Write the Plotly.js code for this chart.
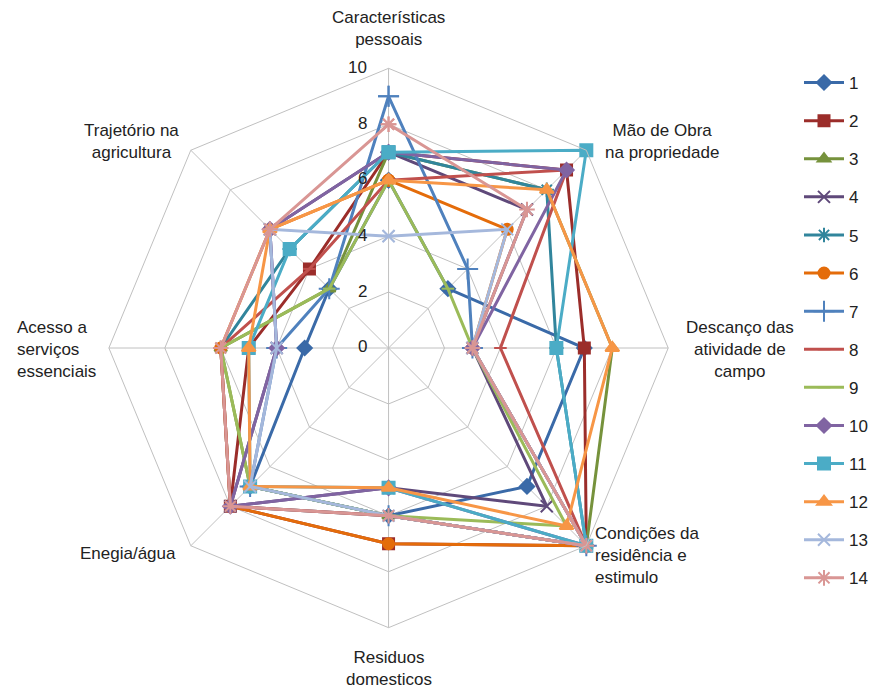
<!DOCTYPE html>
<html>
<head>
<meta charset="utf-8">
<script src="https://cdn.plot.ly/plotly-3.0.1.min.js"></script>
<style>html,body{margin:0;padding:0;background:#fff;}#chart{width:873px;height:692px;}</style>
</head>
<body>
<div id="chart"></div>
<script>
// Axis categories (clockwise from top)
const categories = [
  "Características pessoais",
  "Mão de Obra na propriedade",
  "Descanço das atividade de campo",
  "Condições da residência e estimulo",
  "Residuos domesticos",
  "Enegia/água",
  "Acesso a serviços essenciais",
  "Trajetório na agricultura"
];
const categoryLabels = [
  "Características<br>pessoais",
  "Mão de Obra<br>na propriedade",
  "Descanço das<br>atividade de<br>campo",
  "Condições da<br>residência e<br>estimulo",
  "Residuos<br>domesticos",
  "Enegia/água",
  "Acesso a<br>serviços<br>essenciais",
  "Trajetório na<br>agricultura"
];
const seriesNames = ["1","2","3","4","5","6","7","8","9","10","11","12","13","14"];
const s1  = [6, 3, 7, 7, 6, 7, 3, 3];
const s2  = [7, 9, 7, 10, 7, 8, 5, 4];
const s3  = [7, 8, 8, 10, 6, 7, 6, 3];
const s4  = [7, 7, 3, 8, 5, 8, 4, 6];
const s5  = [7, 8, 6, 10, 6, 8, 6, 5];
const s6  = [6, 6, 3, 10, 7, 8, 6, 6];
const s7  = [9, 4, 3, 10, 6, 7, 4, 3];
const s8  = [6, 9, 4, 10, 6, 8, 6, 4];
const s9  = [6, 3, 3, 9, 6, 7, 6, 3];
const s10 = [7, 9, 3, 10, 5, 8, 4, 6];
const s11 = [7, 10, 6, 10, 5, 7, 5, 5];
const s12 = [6, 8, 8, 9, 5, 7, 5, 6];
const s13 = [4, 6, 3, 10, 6, 7, 4, 6];
const s14 = [8, 7, 3, 10, 6, 8, 6, 6];
const seriesValues = [s1,s2,s3,s4,s5,s6,s7,s8,s9,s10,s11,s12,s13,s14];
const radialTicks = [0, 2, 4, 6, 8, 10];

const colors = ["#3A6AA8","#9B2D2A","#76923C","#5F497A","#31859C","#E46C0A",
                "#4F81BD","#C0504D","#9BBB59","#8064A2","#4BACC6","#F79646",
                "#A5B8DC","#D99694"];
const symbols = ["diamond","square","triangle-up","x-thin-open","asterisk-open","circle",
                 "cross-thin-open","line-ew-open","line-ew-open","diamond","square","triangle-up",
                 "x-thin-open","asterisk-open"];
const sizes = [11,11,11,12,12,11,15,9,9,11,12,12,12,13];

const traces = seriesValues.map((vals, i) => ({
  type: "scatterpolar",
  mode: "lines+markers",
  name: seriesNames[i],
  legendgroup: "g" + i,
  r: vals.concat([vals[0]]),
  theta: categories.concat([categories[0]]),
  line: {color: colors[i], width: 3},
  marker: {symbol: symbols[i], size: sizes[i], color: colors[i],
           line: {color: colors[i], width: 2}},
  cliponaxis: false
}));

const FONT = "Liberation Sans, Arial, sans-serif";
const W = 873, H = 692;
const cx = 389, cy = 348, R = 280;

const labelPos = [
  {x: 389, y: 29, xa: "center", align: "center"},
  {x: 663, y: 141, xa: "center", align: "center"},
  {x: 741, y: 349, xa: "center", align: "center"},
  {x: 594, y: 555, xa: "left", align: "left"},
  {x: 389, y: 668, xa: "center", align: "center"},
  {x: 128, y: 553, xa: "center", align: "center"},
  {x: 15, y: 349, xa: "left", align: "left"},
  {x: 132, y: 141, xa: "center", align: "center"}
];
const annotations = categoryLabels.map((t, i) => ({
  text: t, xref: "paper", yref: "paper",
  x: labelPos[i].x / W, y: 1 - labelPos[i].y / H,
  xanchor: labelPos[i].xa, yanchor: "middle", align: labelPos[i].align,
  showarrow: false,
  font: {family: FONT, size: 17, color: "#222"}
}));
// radial tick labels placed left of the vertical spoke
radialTicks.forEach(v => {
  annotations.push({
    text: String(v), xref: "paper", yref: "paper",
    x: 369 / W, y: 1 - (cy - v * R / 10 - 1) / H,
    xanchor: "right", yanchor: "middle", showarrow: false,
    font: {family: FONT, size: 17, color: "#222"}
  });
});

const layout = {
  width: W, height: H,
  margin: {l: 0, r: 0, t: 0, b: 0},
  paper_bgcolor: "#fff",
  showlegend: true,
  font: {family: FONT, color: "#222"},
  legend: {
    x: 800 / W, y: 1 - 65 / H, xanchor: "left", yanchor: "top",
    tracegroupgap: 13,
    font: {size: 17, color: "#222"},
    itemwidth: 40
  },
  polar: {
    domain: {x: [(cx - R) / W, (cx + R) / W], y: [(H - cy - R) / H, (H - cy + R) / H]},
    gridshape: "linear",
    bgcolor: "#fff",
    radialaxis: {
      range: [0, 10], tickvals: radialTicks,
      angle: 90, showticklabels: false,
      showline: false, ticks: "", gridcolor: "#C0C0C0", gridwidth: 1
    },
    angularaxis: {
      rotation: 90, direction: "clockwise",
      showticklabels: false, ticks: "",
      gridcolor: "#C0C0C0", linecolor: "#C0C0C0", linewidth: 1, showline: true
    }
  },
  annotations: annotations
};

Plotly.newPlot("chart", traces, layout, {displayModeBar: false, staticPlot: true});
</script>
</body>
</html>
